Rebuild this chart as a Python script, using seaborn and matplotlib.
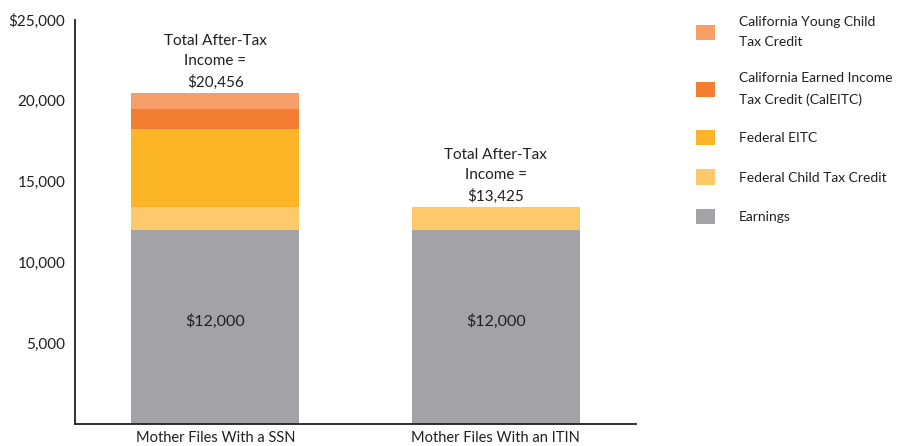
import numpy as np
import pandas as pd
import matplotlib
matplotlib.use("Agg")
import matplotlib.pyplot as plt
import seaborn as sns
from matplotlib.patches import Patch

groups = ["Mother Files With a SSN", "Mother Files With an ITIN"]
earnings = [12000, 12000]
federal_ctc = [1425, 1425]
federal_eitc = [4800, 0]
cal_eitc = [1231, 0]
ca_yctc = [1000, 0]

layer_names = ["Earnings", "Federal Child Tax Credit", "Federal EITC",
               "California Earned Income\nTax Credit (CalEITC)",
               "California Young Child\nTax Credit"]
layer_colors = ["#A3A2A7", "#FDC96B", "#FBB527", "#F37E32", "#F69D68"]
y_ticks = [5000, 10000, 15000, 20000, 25000]
y_tick_labels = ["5,000", "10,000", "15,000", "20,000", "$25,000"]

sns.set_style("white")
plt.rcParams["font.family"] = ["Lato", "DejaVu Sans"]
text_color = "#231F20"

df = pd.DataFrame({"group": groups, "Earnings": earnings,
                   "Federal Child Tax Credit": federal_ctc,
                   "Federal EITC": federal_eitc,
                   "CalEITC": cal_eitc, "YCTC": ca_yctc})
layers = ["Earnings", "Federal Child Tax Credit", "Federal EITC", "CalEITC", "YCTC"]
cum = df[layers].cumsum(axis=1)
totals = cum["YCTC"].values

fig = plt.figure(figsize=(8.98, 4.46), dpi=100)
ax = fig.add_axes([75 / 898, 22 / 446, (636 - 75) / 898, (424 - 19.5) / 446])

# stacked bars: draw the cumulative totals from the top layer down
for layer, color in reversed(list(zip(layers, layer_colors))):
    sns.barplot(x=df["group"], y=cum[layer], color=color, saturation=1,
                width=0.6, linewidth=0, ax=ax)

ax.set_xlim(-0.5, 1.5)
ax.set_ylim(0, 25000)
ax.set_yticks(y_ticks)
ax.set_yticklabels(y_tick_labels)
ax.set_xlabel("")
ax.set_ylabel("")
ax.tick_params(axis="y", direction="in", length=9.5, width=1.3, pad=7,
               labelsize=11, labelcolor=text_color, color=text_color)
ax.tick_params(axis="x", length=0, pad=5, labelsize=10.5, labelcolor=text_color)
for s in ["top", "right"]:
    ax.spines[s].set_visible(False)
for s in ["left", "bottom"]:
    ax.spines[s].set_linewidth(1.3)
    ax.spines[s].set_color(text_color)

for i, g in enumerate(groups):
    ax.text(i, earnings[i] * 0.53, f"${earnings[i]:,}", ha="center", va="center",
            fontsize=11.5, color=text_color)
    ax.text(i, totals[i] + 200, f"Total After-Tax\nIncome =\n${totals[i]:,}",
            ha="center", va="bottom", fontsize=11, color=text_color,
            linespacing=1.55)

handles = [Patch(facecolor=c, edgecolor="none", label=n)
           for n, c in zip(layer_names, layer_colors)]
leg = fig.legend(handles=handles[::-1], loc="upper left",
                 bbox_to_anchor=(696 / 898, 1 - 16 / 446), frameon=False,
                 fontsize=10, labelcolor=text_color, handlelength=1.35,
                 handleheight=1.35, handletextpad=1.75, labelspacing=1.72,
                 borderaxespad=0, borderpad=0)
for t in leg.get_texts():
    t.set_linespacing(1.85)

fig.savefig("out.png", dpi=100)
